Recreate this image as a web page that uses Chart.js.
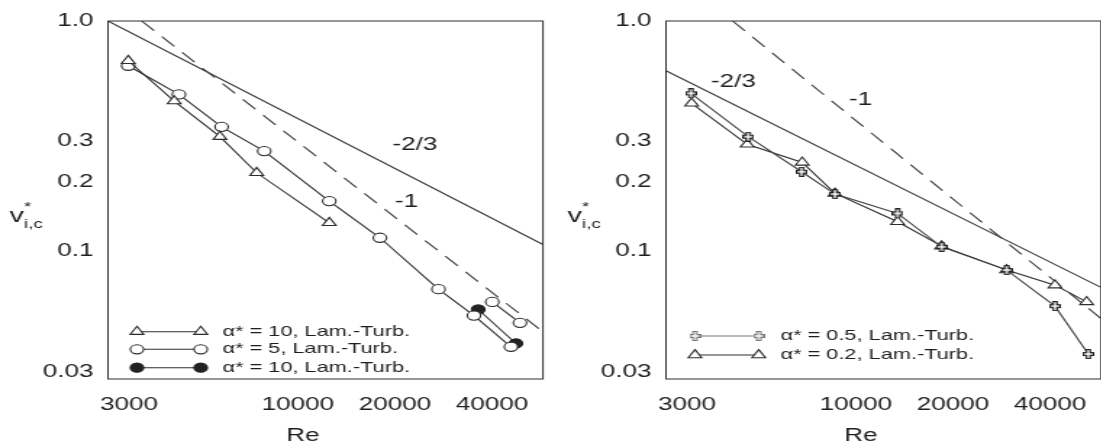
<!DOCTYPE html>
<html>
<head>
<meta charset="utf-8">
<script src="https://cdn.jsdelivr.net/npm/chart.js"></script>
<style>
  html, body { margin: 0; padding: 0; background: #fff; width: 1101px; height: 447px; overflow: hidden; }
  .panel { position: absolute; top: 0; width: 558px; height: 447px; }
  #leftPanel { left: 0; }
  #rightPanel { left: 558px; }
</style>
</head>
<body>
<div class="panel" id="leftPanel"><canvas id="leftChart" width="385" height="447" style="width:558px;height:447px"></canvas></div>
<div class="panel" id="rightPanel"><canvas id="rightChart" width="385" height="447" style="width:558px;height:447px"></canvas></div>
<script>
// axes (log-log, same for both panels)
const xTicks = [3000, 10000, 20000, 40000];
const xTickLabels = ['3000', '10000', '20000', '40000'];
const yTicks = [1.0, 0.3, 0.2, 0.1, 0.03];
const yTickLabels = ['1.0', '0.3', '0.2', '0.1', '0.03'];
const xRange = [2582, 57500];
const yRange = [0.0279, 1.0];

// left panel
const leftNames = ['α* = 10, Lam.-Turb.', 'α* = 5, Lam.-Turb.', 'α* = 10, Lam.-Turb.'];
const leftTriRe = [2983, 4142, 5738, 7457, 12520];
const leftTriV = [0.672, 0.449, 0.3145, 0.2193, 0.133];
const leftCircRe = [2983, 4282, 5808, 7870, 12520, 17970, 27290, 35150, 45770];
const leftCircV = [0.639, 0.480, 0.347, 0.2724, 0.1652, 0.1145, 0.0685, 0.0526, 0.0385];
const leftCircBranchRe = [40060, 48810];
const leftCircBranchV = [0.0603, 0.0489];
const leftDotRe = [36240, 47420];
const leftDotV = [0.0559, 0.0398];
const leftSlope23Re = [2582, 57500];
const leftSlope23V = [1.0, 0.107];
const leftSlope1Re = [3282, 57500];
const leftSlope1V = [1.0, 0.0447];
const leftNoteText = ['-2/3', '-1'];
const leftNoteRe = [23070, 21750];
const leftNoteV = [0.289, 0.164];

// right panel
const rightNames = ['α* = 0.5, Lam.-Turb.', 'α* = 0.2, Lam.-Turb.'];
const rightCrossRe = [3085, 4642, 6796, 8619, 13480, 18450, 29350, 41420, 52530];
const rightCrossV = [0.4853, 0.3145, 0.2215, 0.1772, 0.1461, 0.1046, 0.0829, 0.0578, 0.0358];
const rightTriRe = [3100, 4609, 6826, 8619, 13480, 18450, 29350, 41420, 51930];
const rightTriV = [0.439, 0.2913, 0.2433, 0.1784, 0.1343, 0.1053, 0.0829, 0.0713, 0.0603];
const rightSlope23Re = [2582, 57500];
const rightSlope23V = [0.608, 0.0697];
const rightSlope1Re = [4153, 57500];
const rightSlope1V = [1.0, 0.0511];
const rightNoteText = ['-2/3', '-1'];
const rightNoteRe = [4172, 10350];
const rightNoteV = [0.545, 0.4536];

const FONT = '"Liberation Sans", Arial, Helvetica, sans-serif';
const INK = '#2e2e2e';

function makeCross(color) {
    const c = document.createElement('canvas');
    c.width = 8; c.height = 10;
    const g = c.getContext('2d');
    const pts = [[2.7, 0.5], [5.3, 0.5], [5.3, 3.7], [7.5, 3.7], [7.5, 6.3], [5.3, 6.3], [5.3, 9.5],
                 [2.7, 9.5], [2.7, 6.3], [0.5, 6.3], [0.5, 3.7], [2.7, 3.7]];
    g.beginPath();
    pts.forEach((p, i) => i ? g.lineTo(p[0], p[1]) : g.moveTo(p[0], p[1]));
    g.closePath();
    g.fillStyle = '#fff'; g.fill();
    g.strokeStyle = color; g.lineWidth = 1.2; g.stroke();
    return c;
}
const crossDark = makeCross('#1e1e1e');
const crossGray = makeCross('#777');

function pts(re, v) {
    return re.map((r, i) => ({ x: r, y: v[i] }));
}

function series(re, v, extra) {
    return Object.assign({
        data: pts(re, v),
        showLine: true,
        tension: 0,
        borderColor: INK,
        borderWidth: 1.1,
        pointBackgroundColor: '#fff',
        pointBorderColor: INK,
        pointBorderWidth: 1.1,
        pointRadius: 4.6,
        pointStyle: 'circle'
    }, extra);
}

function refLine(re, v, dash) {
    return {
        data: pts(re, v),
        showLine: true,
        tension: 0,
        borderColor: '#3a3a3a',
        borderWidth: 1.1,
        borderDash: dash,
        pointRadius: 0
    };
}

// box, titles, slope notes and the in-plot legend
const decor = {
    id: 'decor',
    afterDraw(chart, args, opts) {
        const { ctx, chartArea: a, scales: { x, y } } = chart;
        ctx.save();
        ctx.setLineDash([]);
        ctx.strokeStyle = INK;
        ctx.lineWidth = 1;
        ctx.strokeRect(a.left, a.top, a.right - a.left, a.bottom - a.top);

        ctx.fillStyle = '#1e1e1e';
        ctx.textAlign = 'left';
        ctx.textBaseline = 'alphabetic';
        ctx.font = '20px ' + FONT;
        ctx.fillText('v', 6.5, 222);
        ctx.font = '13px ' + FONT;
        ctx.fillText('*', 16.5, 211);
        ctx.fillText('i,c', 16.5, 228);

        ctx.font = '18px ' + FONT;
        ctx.textAlign = 'center';
        ctx.textBaseline = 'middle';
        ctx.fillText('Re', a.left + 0.448 * (a.right - a.left), 436);

        opts.notes.text.forEach((t, i) => {
            ctx.fillText(t, x.getPixelForValue(opts.notes.re[i]), y.getPixelForValue(opts.notes.v[i]));
        });

        ctx.textAlign = 'left';
        ctx.font = '15px ' + FONT;
        const x1 = a.left + 20, x2 = a.left + 64, tx = a.left + 79;
        opts.legend.forEach((item, i) => {
            const ds = chart.data.datasets[item.ds];
            const yy = opts.rows[i];
            ctx.strokeStyle = item.lineColor || ds.borderColor;
            ctx.lineWidth = 1.1;
            ctx.beginPath();
            ctx.moveTo(x1, yy);
            ctx.lineTo(x2, yy);
            ctx.stroke();
            [x1, x2].forEach(px => {
                ctx.fillStyle = ds.pointBackgroundColor;
                ctx.strokeStyle = ds.pointBorderColor;
                ctx.lineWidth = ds.pointBorderWidth;
                Chart.helpers.drawPoint(ctx, {
                    pointStyle: item.pointStyle || ds.pointStyle,
                    radius: ds.pointRadius,
                    borderWidth: ds.pointBorderWidth,
                    rotation: 0
                }, px, yy);
            });
            ctx.fillStyle = '#1e1e1e';
            ctx.fillText(item.label, tx, yy);
        });
        ctx.restore();
    }
};

function makeChart(id, datasets, legend, rows, notes) {
    const ctx = document.getElementById(id).getContext('2d');
    return new Chart(ctx, {
        type: 'scatter',
        data: { datasets: datasets },
        options: {
            responsive: false,
            animation: false,
            events: [],
            layout: { padding: { top: 21, right: 10.4, left: 0, bottom: 0 } },
            plugins: {
                legend: { display: false },
                tooltip: { enabled: false },
                decor: { legend: legend, rows: rows, notes: notes }
            },
            scales: {
                x: {
                    type: 'logarithmic',
                    min: xRange[0],
                    max: xRange[1],
                    bounds: 'data',
                    grid: { display: false, drawTicks: false },
                    border: { display: false },
                    afterBuildTicks: s => { s.ticks = xTicks.map(v => ({ value: v })); },
                    afterFit: s => { s.height = 68; },
                    ticks: {
                        padding: 15,
                        color: '#1e1e1e',
                        autoSkip: false,
                        maxRotation: 0,
                        font: { size: 18, family: FONT },
                        callback: v => xTickLabels[xTicks.indexOf(v)]
                    }
                },
                y: {
                    type: 'logarithmic',
                    min: yRange[0],
                    max: yRange[1],
                    bounds: 'data',
                    grid: { display: false, drawTicks: false },
                    border: { display: false },
                    afterBuildTicks: s => { s.ticks = yTicks.map(v => ({ value: v })); },
                    afterFit: s => { s.width = 74.5; },
                    ticks: {
                        padding: 10,
                        color: '#1e1e1e',
                        autoSkip: false,
                        font: { size: 18, family: FONT },
                        callback: v => yTickLabels[yTicks.indexOf(v)]
                    }
                }
            }
        },
        plugins: [decor]
    });
}

makeChart('leftChart', [
    series(leftTriRe, leftTriV, { pointStyle: 'triangle', pointRadius: 5.4 }),
    series(leftCircRe, leftCircV, {}),
    series(leftDotRe, leftDotV, { pointBackgroundColor: '#222', pointBorderColor: '#222' }),
    series(leftCircBranchRe, leftCircBranchV, {}),
    refLine(leftSlope23Re, leftSlope23V, []),
    refLine(leftSlope1Re, leftSlope1V, [13, 8])
], [
    { ds: 0, label: leftNames[0] },
    { ds: 1, label: leftNames[1] },
    { ds: 2, label: leftNames[2] }
], [331.7, 349.3, 367.7], { text: leftNoteText, re: leftNoteRe, v: leftNoteV });

makeChart('rightChart', [
    series(rightCrossRe, rightCrossV, { pointStyle: crossDark, borderColor: '#444' }),
    series(rightTriRe, rightTriV, { pointStyle: 'triangle', pointRadius: 5.4 }),
    refLine(rightSlope23Re, rightSlope23V, []),
    refLine(rightSlope1Re, rightSlope1V, [13, 8])
], [
    { ds: 0, label: rightNames[0], pointStyle: crossGray, lineColor: '#777' },
    { ds: 1, label: rightNames[1] }
], [336, 355], { text: rightNoteText, re: rightNoteRe, v: rightNoteV });
</script>
</body>
</html>
